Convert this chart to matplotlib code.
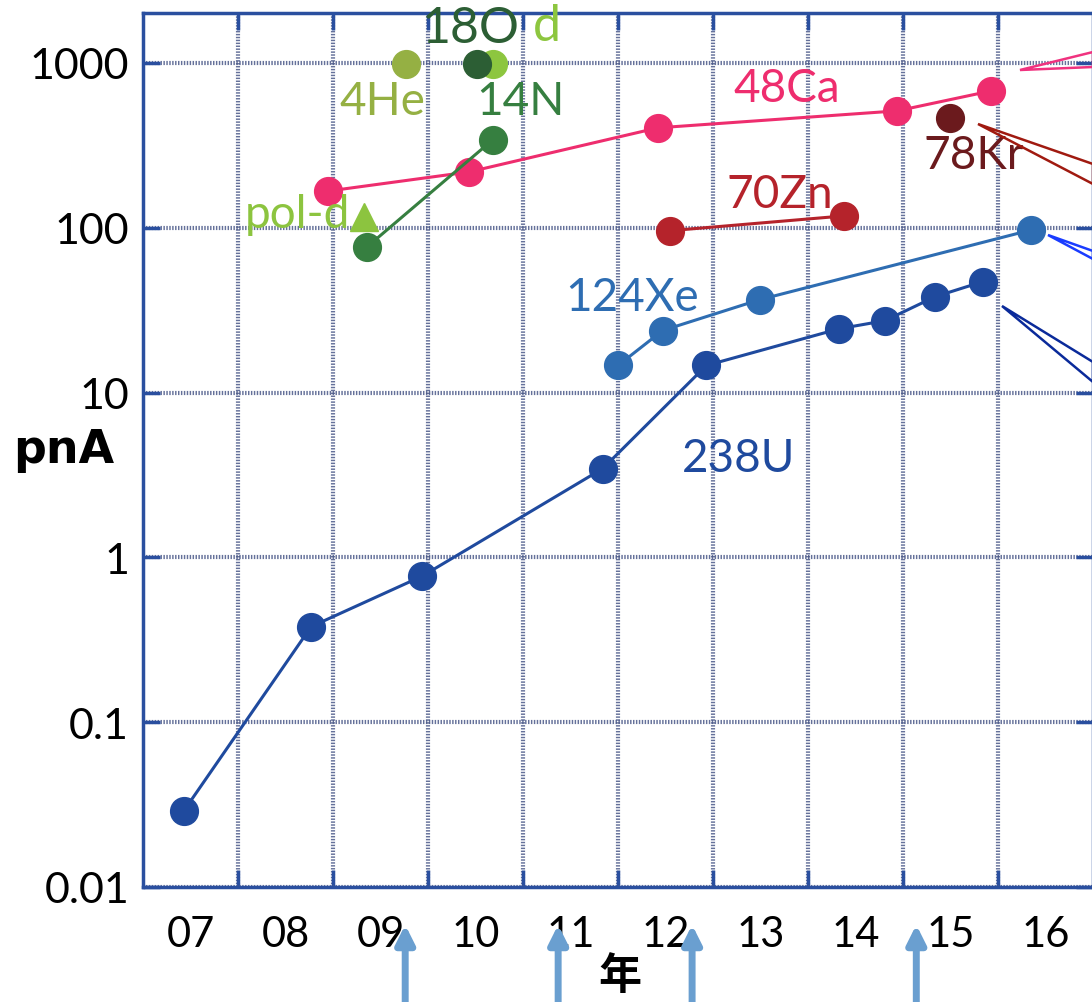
import numpy as np
import matplotlib.pyplot as plt
from matplotlib.ticker import FixedLocator, NullFormatter, FixedFormatter
from matplotlib.patches import Polygon

# x = fractional year position (7.0 = left edge of "07" column)
u238_x = [7.43, 8.77, 9.94, 11.84, 12.93, 14.33, 14.81, 15.34, 15.84]
u238_y = [0.029, 0.38, 0.77, 3.46, 14.6, 24.4, 27.3, 38.2, 47.1]

xe124_x = [12.0, 12.47, 13.49, 16.35]
xe124_y = [14.6, 23.8, 36.6, 97]

ca48_x = [8.95, 10.43, 12.42, 14.94, 15.93]
ca48_y = [167, 218, 404, 512, 677]

zn70_x = [12.55, 14.38]
zn70_y = [96, 118]

kr78_x = [15.49]
kr78_y = [464]

n14_x = [9.36, 10.68]
n14_y = [76.7, 341]

pold_x = [9.33]
pold_y = [117]

he4_x = [9.77]
he4_y = [985]

o18_x = [10.52]
o18_y = [985]

d_x = [10.68]
d_y = [985]

year_labels = ['07', '08', '09', '10', '11', '12', '13', '14', '15', '16']
y_ticks = [0.01, 0.1, 1, 10, 100, 1000]
y_labels = ['0.01', '0.1', '1', '10', '100', '1000']
arrow_x = [9.76, 11.37, 12.78, 15.14]

plt.rcParams['font.family'] = ['Lato', 'DejaVu Sans']

fig = plt.figure(figsize=(10.92, 10.03), dpi=100)
ax = fig.add_axes([143/1092, 1 - 888/1003, 950/1092, 874/1003])
ax.set_yscale('log')
ax.set_xlim(7, 17)
ax.set_ylim(0.01, 10**(3 + 50/165))

spine_c = '#2a4f9f'
for s in ax.spines.values():
    s.set_color(spine_c)
    s.set_linewidth(2.5)

ax.xaxis.set_major_locator(FixedLocator(np.arange(8, 17)))
ax.xaxis.set_major_formatter(NullFormatter())
ax.xaxis.set_minor_locator(FixedLocator(np.arange(7.5, 17, 1)))
ax.xaxis.set_minor_formatter(FixedFormatter(year_labels))
ax.yaxis.set_major_locator(FixedLocator(y_ticks))
ax.yaxis.set_major_formatter(FixedFormatter(y_labels))
ax.yaxis.set_minor_locator(FixedLocator([]))
ax.tick_params(which='major', direction='in', length=12, width=2.5, color=spine_c,
               top=True, right=True, labelsize=31, pad=10)
ax.tick_params(axis='x', which='minor', length=0, labelsize=30, pad=20)
ax.grid(True, which='major', color='#4a5888', linewidth=3, linestyle=(0, (0.35, 0.35)), alpha=0.85)
ax.set_axisbelow(True)

lw = 2.2
ms = 20
ax.plot(u238_x, u238_y, '-o', color='#1f4a9e', lw=lw, ms=ms, zorder=5)
ax.plot(xe124_x, xe124_y, '-o', color='#2e6db2', lw=lw, ms=ms, zorder=5)
ax.plot(ca48_x, ca48_y, '-o', color='#ee2d6e', lw=lw, ms=ms, zorder=5)
ax.plot(zn70_x, zn70_y, '-o', color='#b5232b', lw=lw, ms=ms, zorder=5)
ax.plot(kr78_x, kr78_y, 'o', color='#6b1a1d', ms=ms, zorder=5)
ax.plot(n14_x, n14_y, '-o', color='#367f40', lw=lw, ms=ms, zorder=5)
ax.plot(pold_x, pold_y, '^', color='#8cc43f', ms=ms, zorder=6)
ax.plot(he4_x, he4_y, 'o', color='#95b043', ms=ms, zorder=5)
ax.plot(d_x, d_y, 'o', color='#8dc63f', ms=ms, zorder=5)
ax.plot(o18_x, o18_y, 'o', color='#2c5e34', ms=ms, zorder=6)

fs = 33
ax.text(10.45, 1620, '18O', color='#2c5e34', fontsize=36, ha='center', va='center', zorder=7)
ax.text(11.25, 1680, 'd', color='#8dc63f', fontsize=36, ha='center', va='center', zorder=7)
ax.text(9.52, 590, '4He', color='#95b043', fontsize=fs, ha='center', va='center', zorder=7)
ax.text(10.97, 590, '14N', color='#367f40', fontsize=fs, ha='center', va='center', zorder=7)
ax.text(8.63, 122, 'pol-d', color='#8cc43f', fontsize=fs, ha='center', va='center', zorder=7)
ax.text(13.78, 700, '48Ca', color='#ee2d6e', fontsize=fs, ha='center', va='center', zorder=7)
ax.text(15.75, 277, '78Kr', color='#6b1a1d', fontsize=fs, ha='center', va='center', zorder=7)
ax.text(13.7, 160, '70Zn', color='#b5232b', fontsize=fs, ha='center', va='center', zorder=7)
ax.text(12.15, 38, '124Xe', color='#2e6db2', fontsize=fs, ha='center', va='center', zorder=7)
ax.text(13.27, 4.0, '238U', color='#1f4a9e', fontsize=fs, ha='center', va='center', zorder=7)

# callout wedges running off the right edge
def wedge(tip, y1, y2, color):
    p = Polygon([tip, (1.0, y1), (1.0, y2)], closed=True, fill=False, edgecolor=color,
                lw=1.8, transform=ax.transAxes, clip_on=False, zorder=8)
    ax.add_patch(p)

def ax_xy(px, py):
    return ((px - 143) / 950, (888 - py) / 874)

wedge(ax_xy(1020, 71), ax_xy(0, 53)[1], ax_xy(0, 68)[1], '#f0327f')
wedge(ax_xy(978, 125), ax_xy(0, 165)[1], ax_xy(0, 185)[1], '#a01a10')
wedge(ax_xy(1048, 236), ax_xy(0, 252)[1], ax_xy(0, 260)[1], '#1a3cff')
wedge(ax_xy(1002, 307), ax_xy(0, 363)[1], ax_xy(0, 383)[1], '#0a2a9a')

ax.set_ylabel('pnA', fontsize=33, fontweight='bold', rotation=0, family=['DejaVu Sans'],
              labelpad=0)
ax.yaxis.set_label_coords(-0.083, 0.475)
fig.text(620 / 1092, 1 - 976 / 1003, '年', fontsize=31, fontweight='bold', ha='center', va='center',
         family=['Noto Sans CJK JP', 'DejaVu Sans'])

# upward arrows below the axis
for xa in arrow_x:
    ax.annotate('', xy=(xa, 10**(-2 - 35/165)), xytext=(xa, 10**(-2 - 118/165)),
                xycoords='data', textcoords='data', annotation_clip=False,
                arrowprops=dict(arrowstyle='-|>,head_width=0.55,head_length=1.1', color='#6a9fd0', lw=5))

fig.savefig('out.png', dpi=100)
